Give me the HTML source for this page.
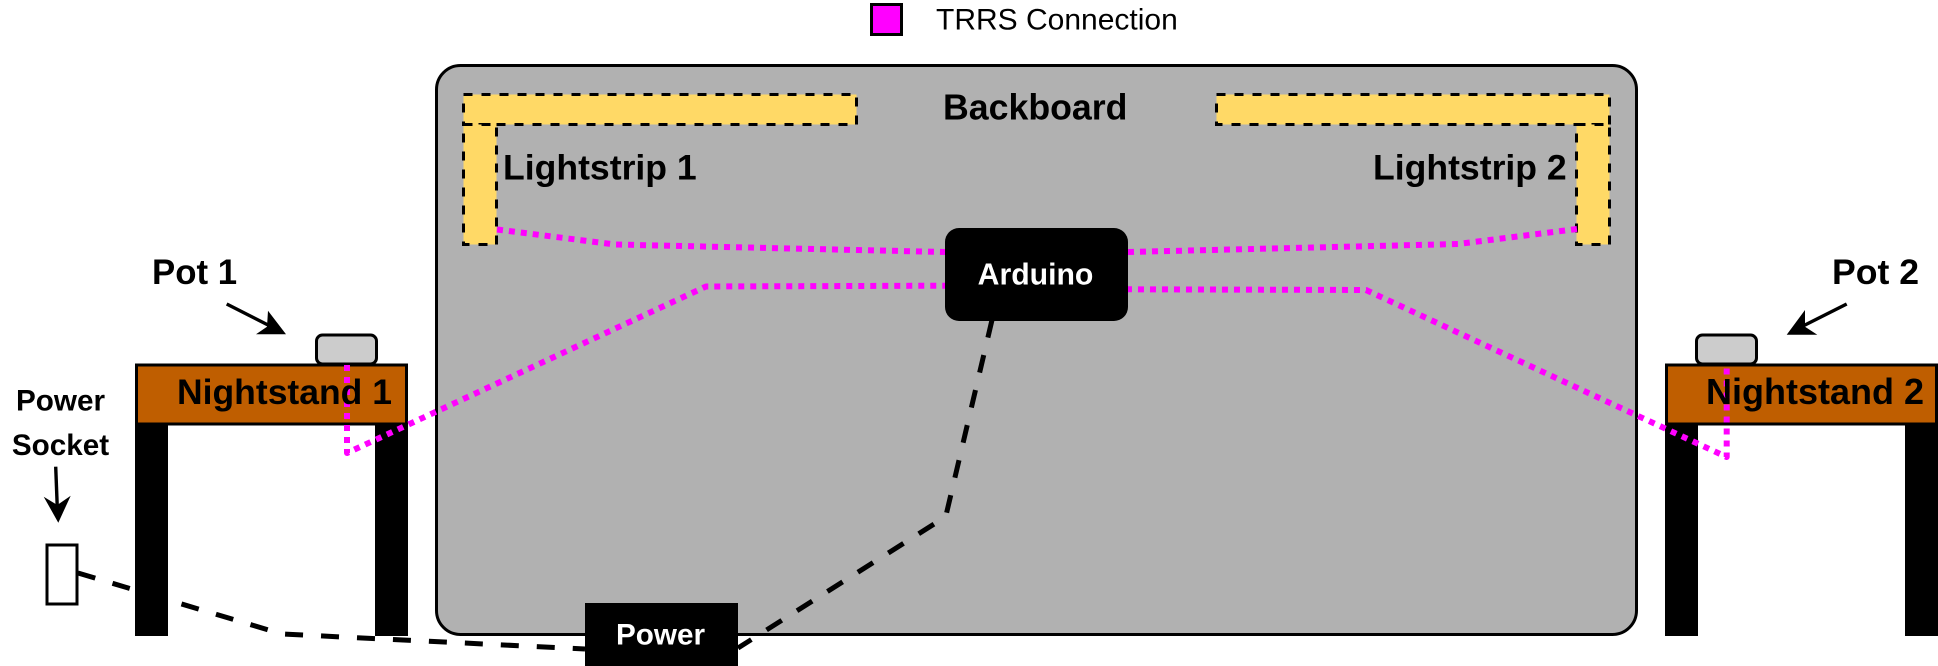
<!DOCTYPE html>
<html>
<head>
<meta charset="utf-8">
<style>
html,body{margin:0;padding:0;background:#fff;width:1938px;height:666px;overflow:hidden}
svg{display:block}
text{font-family:"Liberation Sans",sans-serif;fill:#000}
.b{font-weight:bold}
</style>
</head>
<body>
<svg width="1938" height="666" viewBox="0 0 1938 666" xmlns="http://www.w3.org/2000/svg">
<rect x="0" y="0" width="1938" height="666" fill="#fff"/>
<!-- Backboard -->
<rect x="436.5" y="65.5" width="1200" height="569" rx="24" ry="24" fill="#b1b1b1" stroke="#000" stroke-width="3"/>
<!-- Lightstrips -->
<g fill="#ffd966" stroke="#000" stroke-width="3" stroke-dasharray="9 9">
<rect x="463.5" y="94.5" width="393" height="30"/>
<rect x="463.5" y="124.5" width="33" height="120"/>
<rect x="1216.5" y="94.5" width="393" height="30"/>
<rect x="1576.5" y="124.5" width="33" height="120"/>
</g>
<!-- Nightstand 1 -->
<rect x="135" y="424" width="33" height="212" fill="#000"/>
<rect x="375" y="424" width="33" height="212" fill="#000"/>
<rect x="316.5" y="335" width="60" height="29" rx="6" ry="6" fill="#ccc" stroke="#000" stroke-width="3"/>
<rect x="136.5" y="365" width="270" height="59" fill="#bf5e00" stroke="#000" stroke-width="3"/>
<!-- Nightstand 2 -->
<rect x="1665" y="424" width="33" height="212" fill="#000"/>
<rect x="1905" y="424" width="33" height="212" fill="#000"/>
<rect x="1696.5" y="335" width="60" height="29" rx="6" ry="6" fill="#ccc" stroke="#000" stroke-width="3"/>
<rect x="1666.5" y="365" width="270" height="59" fill="#bf5e00" stroke="#000" stroke-width="3"/>
<!-- Socket -->
<rect x="47" y="545" width="30" height="59" fill="#fff" stroke="#000" stroke-width="3"/>
<!-- Power wiring -->
<g fill="none" stroke="#000" stroke-width="5" stroke-dasharray="18 18">
<path d="M78 573 L282 634 L585 649"/>
<path d="M992 320 L945.7 516.7 L738 648"/>
</g>
<!-- TRRS wiring -->
<g fill="none" stroke="#f0f" stroke-width="6" stroke-dasharray="6 6" stroke-linejoin="round">
<path d="M497 229.5 L615 244.5 L945 252"/>
<path d="M347 365 L347 453 L706 286.5 L945 285.7"/>
<path d="M1128 252 L1458 244 L1577 229"/>
<path d="M1726.7 368.5 L1726.7 457 L1366 290 L1128 289.3"/>
</g>
<!-- Boxes -->
<rect x="945" y="228" width="183" height="93" rx="14" ry="14" fill="#000"/>
<rect x="585" y="603" width="153" height="63" fill="#000"/>
<!-- Legend -->
<rect x="871.5" y="4.5" width="30" height="30" fill="#f0f" stroke="#000" stroke-width="3"/>
<!-- Arrows -->
<line x1="226.7" y1="304" x2="270" y2="326" stroke="#000" stroke-width="3.4"/>
<polygon points="286,334.3 256,334.3 267,326.7 268,310.7" fill="#000"/>
<line x1="1846.7" y1="304" x2="1803" y2="326" stroke="#000" stroke-width="3.4"/>
<polygon points="1786.7,334.7 1817.3,334.7 1805,326.7 1805,310" fill="#000"/>
<line x1="55.7" y1="466.7" x2="57.3" y2="508" stroke="#000" stroke-width="3.4"/>
<polygon points="58.3,522.7 43.7,496.7 57.3,505 70.7,495.7" fill="#000"/>
<!-- Text -->
<text x="936" y="29.5" font-size="30">TRRS Connection</text>
<text class="b" x="943" y="119.3" font-size="35.7">Backboard</text>
<text class="b" x="503" y="179.3" font-size="35.6">Lightstrip 1</text>
<text class="b" x="1373" y="179.3" font-size="35.6">Lightstrip 2</text>
<text class="b" x="152" y="284" font-size="34.8">Pot 1</text>
<text class="b" x="1832" y="284" font-size="35.6">Pot 2</text>
<text class="b" x="177" y="404" font-size="35.5">Nightstand 1</text>
<text class="b" x="1706" y="404" font-size="36">Nightstand 2</text>
<text class="b" x="60.5" y="410.7" font-size="29.67" text-anchor="middle">Power</text>
<text class="b" x="60.5" y="455" font-size="29.67" text-anchor="middle">Socket</text>
<text class="b" x="1035.5" y="284.3" font-size="30.2" text-anchor="middle" style="fill:#fff">Arduino</text>
<text class="b" x="660.5" y="644.3" font-size="29.67" text-anchor="middle" style="fill:#fff">Power</text>
</svg>
</body>
</html>
